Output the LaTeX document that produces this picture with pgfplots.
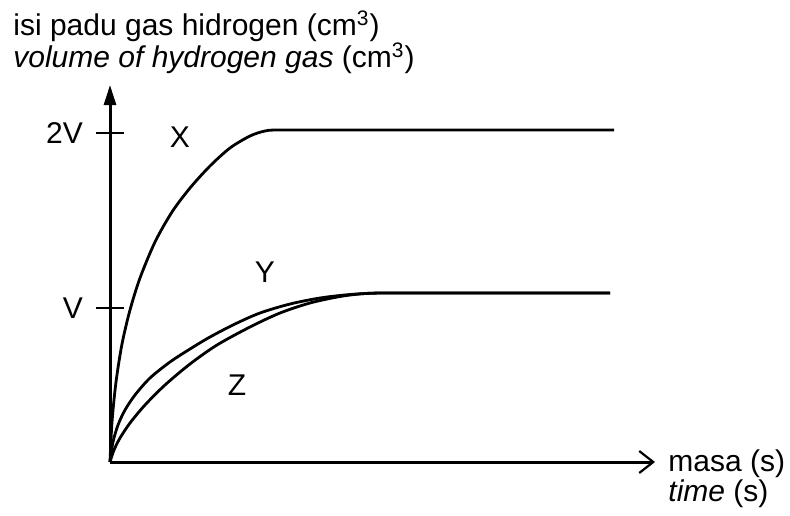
\documentclass[border=0pt]{standalone}
\usepackage{fontspec}
\setmainfont{Liberation Sans}
\usepackage{pgfplots}
\pgfplotsset{compat=1.18}
\usetikzlibrary{arrows.meta}

\begin{document}
\begin{tikzpicture}
\begin{axis}[
  x=0.5pt, y=0.5pt,
  xmin=0, xmax=545, ymin=0, ymax=377,
  axis lines=left,
  axis line style={line width=1.5pt, black},
  x axis line style={-{Straight Barb[length=7pt,width=11pt,line width=1.1pt]}},
  y axis line style={-{Triangle[length=10pt,width=6pt]}},
  xtick=\empty,
  ytick={154,329}, yticklabels={\raisebox{-4.5pt}{V},2V},
  tick align=center, major tick length=14pt,
  tick style={line width=1.1pt, black},
  yticklabel style={font=\fontsize{15}{15}\selectfont, xshift=-3pt},
  clip=false,
]
% X
\addplot[black, line width=1.4pt, smooth, tension=0.5] coordinates {
  (0,0) (2,40) (6,80) (12,118) (20,152) (30,184) (45,220) (62,250)
  (80,274) (100,296) (120,314) (140,326) (155,331) (170,332) (250,332)
  (330,332) (420,332) (504,332)};
% Y
\addplot[black, line width=1.4pt, smooth, tension=0.5] coordinates {
  (0,0) (3,20) (8,37) (15,52) (25,67) (40,84) (60,100) (80,113)
  (100,125) (125,138) (150,149) (180,158) (210,164) (240,167.5)
  (270,169) (310,169) (400,169) (500,169)};
% Z
\addplot[black, line width=1.4pt, smooth, tension=0.5] coordinates {
  (0,0) (4,12) (10,24) (20,39) (35,57) (55,77) (80,98) (107,117)
  (140,135) (170,149) (200,159) (230,165.5) (255,168.5) (280,169)
  (320,169) (400,169) (500,169)};

\node[font=\fontsize{15}{15}\selectfont] at (axis cs:70,325) {X};
\node[font=\fontsize{15}{15}\selectfont] at (axis cs:155,190) {Y};
\node[font=\fontsize{15}{15}\selectfont] at (axis cs:127,77) {Z};

\node[anchor=base west, inner sep=0pt, font=\fontsize{15}{15}\selectfont]
  at (axis cs:-97,426) {isi padu gas hidrogen (cm\textsuperscript{3})};
\node[anchor=base west, inner sep=0pt, font=\fontsize{15}{15}\selectfont]
  at (axis cs:-97,394) {\textit{volume of hydrogen gas} (cm\textsuperscript{3})};
\node[anchor=base west, inner sep=0pt, font=\fontsize{15}{15}\selectfont]
  at (axis cs:558,-9) {masa (s)};
\node[anchor=base west, inner sep=0pt, font=\fontsize{15}{15}\selectfont]
  at (axis cs:558,-39) {\textit{time} (s)};

\coordinate (bl) at (axis cs:-110,-53);
\coordinate (tr) at (axis cs:680,462);
\end{axis}
\pgfresetboundingbox
\path[use as bounding box] (bl) rectangle (tr);
\end{tikzpicture}
\end{document}
